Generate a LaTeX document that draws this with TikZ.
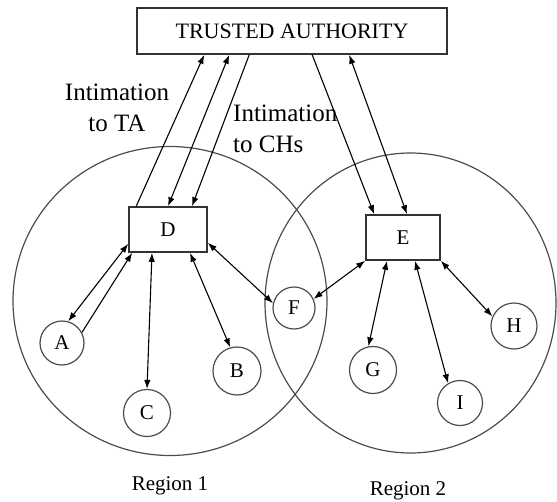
\documentclass[tikz,border=0pt]{standalone}
\usepackage{fontspec}
\setmainfont{Liberation Serif}
\usetikzlibrary{arrows.meta,positioning,shapes.geometric}

\begin{document}
\begin{tikzpicture}[x=1pt,y=-1pt,>={Latex[length=9pt,width=6.5pt]},
    box/.style={rectangle,draw=black!80,line width=1.6pt,inner sep=0pt,
      font=\fontsize{21}{21}\selectfont},
    region/.style={ellipse,draw=black!70,line width=1.2pt,inner sep=0pt},
    sensor/.style={circle,draw=black!70,line width=1.2pt,inner sep=0pt,
      minimum size=46pt,font=\fontsize{21}{21}\selectfont},
    note/.style={font=\fontsize{25}{31}\selectfont,inner sep=0pt},
    caption/.style={font=\fontsize{21}{21}\selectfont,inner sep=0pt}]
  \useasboundingbox (0,0) rectangle (557,501);

  \node[region,minimum width=314pt,minimum height=309pt] (R1) at (170,301) {};
  \node[region,minimum width=291pt,minimum height=300pt] (R2) at (410.5,303) {};

  \node[box,minimum width=310pt,minimum height=46pt,font=\fontsize{22}{22}\selectfont] (TA) at (292,31) {TRUSTED AUTHORITY};
  \node[box,minimum width=78pt,minimum height=45pt] (D) at (168,229.5) {D};
  \node[box,minimum width=74pt,minimum height=45pt] (E) at (403,237.5) {E};

  \node[sensor,minimum size=44pt] (A) at (62,343) {A};
  \node[sensor,minimum size=48pt] (B) at (237,371) {B};
  \node[sensor,minimum size=47pt] (C) at (147,413) {C};
  \node[sensor,minimum size=42pt] (F) at (294,308) {F};
  \node[sensor,minimum size=47pt] (G) at (373,370) {G};
  \node[sensor] (H) at (514,326) {H};
  \node[sensor,minimum size=45pt] (I) at (460,403) {I};

  \node[note,align=center] (toTA) at (117,108) {Intimation\\to TA};
  \node[note,align=left,anchor=west] (toCH) at (233,129) {Intimation\\to CHs};
  \node[caption] (L1) at (170,486) {Region 1};
  \node[caption] (L2) at (408,491) {Region 2};

  \path[<->,line width=1.1pt]
    ([xshift=8pt]D.north west) edge[->] ([xshift=68pt]TA.south west)
    (D.north) edge ([xshift=93pt]TA.south west)
    ([xshift=113pt]TA.south west) edge[->] ([xshift=24pt]D.north)
    ([xshift=176pt]TA.south west) edge[->] ([xshift=9pt]E.north west)
    ([xshift=213pt]TA.south west) edge ([xshift=4pt]E.north)
    (A.74) edge ([yshift=9pt]D.south west)
    (A.28) edge[->] ([xshift=4pt]D.south west)
    ([xshift=-16pt]D.south) edge (C.north)
    ([xshift=22pt]D.south) edge (B.106)
    ([yshift=10pt]D.south east) edge (F.167)
    (E.south west) edge (F.25)
    ([xshift=-16pt]E.south) edge (G.101)
    ([xshift=12pt]E.south) edge (I.121)
    (E.south east) edge (H.156)
  ;
\end{tikzpicture}
\end{document}
